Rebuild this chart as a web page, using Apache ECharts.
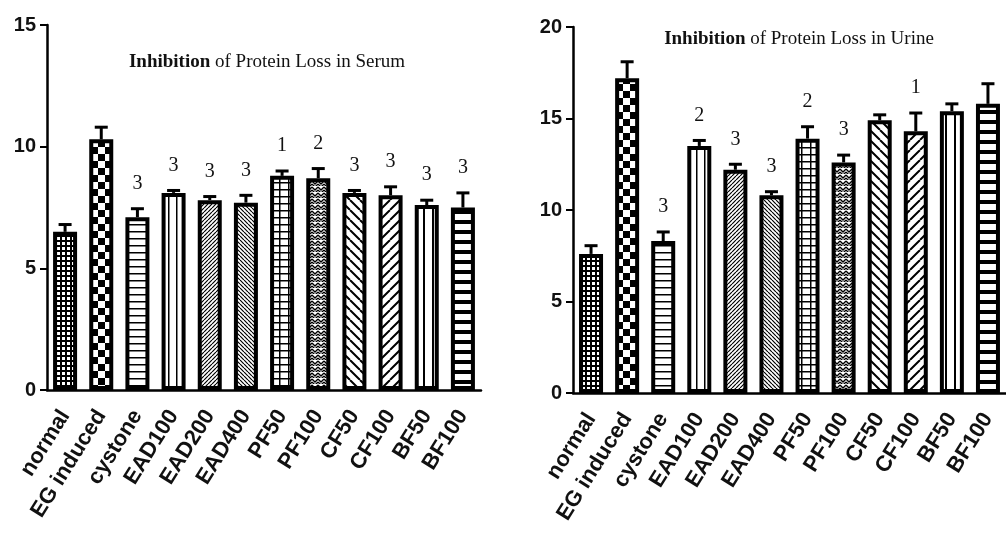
<!DOCTYPE html>
<html>
<head>
<meta charset="utf-8">
<script src="https://cdn.jsdelivr.net/npm/echarts@6/dist/echarts.min.js"></script>
<style>html,body{margin:0;padding:0;background:#fff}#c{width:1006px;height:538px}</style>
</head>
<body>
<div id="c"></div>
<script>
// ---- data ----
const categories = ['normal','EG induced','cystone','EAD100','EAD200','EAD400','PF50','PF100','CF50','CF100','BF50','BF100'];
const serumMean = [6.5, 10.3, 7.1, 8.1, 7.8, 7.7, 8.8, 8.7, 8.1, 8.0, 7.6, 7.5];
const serumErr  = [0.3, 0.5, 0.35, 0.1, 0.15, 0.3, 0.2, 0.4, 0.1, 0.35, 0.2, 0.6];
const serumSig  = ['', '', '3', '3', '3', '3', '1', '2', '3', '3', '3', '3'];
const urineMean = [7.6, 17.2, 8.3, 13.5, 12.2, 10.8, 13.9, 12.6, 14.9, 14.3, 15.4, 15.8];
const urineErr  = [0.45, 0.9, 0.5, 0.3, 0.3, 0.2, 0.65, 0.4, 0.3, 1.0, 0.4, 1.1];
const urineSig  = ['', '', '3', '2', '3', '3', '2', '3', '', '1', '', ''];
const serumTitle = 'Inhibition of Protein Loss in Serum';
const urineTitle = 'Inhibition of Protein Loss in Urine';

// ---- patterns ----
function pat(w, h, draw) {
  const c = document.createElement('canvas');
  c.width = w; c.height = h;
  const g = c.getContext('2d');
  g.fillStyle = '#fff'; g.fillRect(0, 0, w, h);
  g.fillStyle = '#000'; g.strokeStyle = '#000';
  draw(g, w, h);
  return { image: c, repeat: 'repeat' };
}
function diag(s, lw, dir) {
  return pat(s, s, (g) => {
    g.lineWidth = lw;
    g.beginPath();
    for (let k = -1; k <= 1; k++) {
      if (dir > 0) { g.moveTo(k * s, s); g.lineTo(k * s + s, 0); }
      else { g.moveTo(k * s, 0); g.lineTo(k * s + s, s); }
    }
    g.stroke();
  });
}
const patterns = [
  pat(5, 5, (g) => { g.fillRect(0, 0, 5, 2); g.fillRect(0, 0, 2, 5); }),           // normal fine mesh
  pat(14, 14, (g) => { g.fillRect(0, 0, 7, 7); g.fillRect(7, 7, 7, 7); }),        // EG big check
  pat(8, 7, (g) => { g.fillRect(0, 0, 8, 1.5); }),                                // cystone h-lines
  pat(8, 8, (g) => { g.fillRect(0, 0, 1.5, 8); }),                                // EAD100 v-lines
  diag(4, 1.2, 1),                                                                // EAD200
  diag(4, 1.2, -1),                                                               // EAD400
  pat(9, 7, (g) => { g.fillRect(0, 0, 9, 1.5); g.fillRect(0, 0, 1.5, 7); }),      // PF50 grid
  pat(6, 6, (g) => { g.lineWidth = 1.3; g.beginPath(); g.moveTo(0, 1); g.lineTo(3, 4); g.lineTo(6, 1); g.moveTo(0, 4); g.lineTo(3, 7); g.lineTo(6, 4); g.stroke(); }), // PF100 zigzag
  diag(10, 2, -1),                                                                // CF50
  diag(10, 2, 1),                                                                 // CF100
  pat(9, 8, (g) => { g.fillRect(0, 0, 2, 8); }),                                  // BF50
  pat(8, 10, (g) => { g.fillRect(0, 0, 8, 4); })                                  // BF100
];

function barData(vals) {
  return vals.map((v, i) => ({ value: v, itemStyle: { color: patterns[i] } }));
}
function errSeries(mean, err, sig, idx) {
  return {
    type: 'custom', xAxisIndex: idx, yAxisIndex: idx, z: 5,
    data: mean.map((m, i) => [i, m, m + err[i]]),
    renderItem: function (params, api) {
      const x = api.value(0);
      const p0 = api.coord([x, api.value(1)]);
      const p1 = api.coord([x, api.value(2)]);
      const ch = [
        { type: 'line', shape: { x1: p0[0], y1: p0[1], x2: p1[0], y2: p1[1] }, style: { stroke: '#000', lineWidth: 3 } },
        { type: 'line', shape: { x1: p1[0] - 6.5, y1: p1[1], x2: p1[0] + 6.5, y2: p1[1] }, style: { stroke: '#000', lineWidth: 3 } }
      ];
      const s = sig[params.dataIndex];
      if (s) ch.push({ type: 'text', x: p1[0], y: p1[1] - 25, style: { text: s, align: 'center', verticalAlign: 'middle', fontFamily: 'Liberation Serif', fontSize: 20, fill: '#111' } });
      return { type: 'group', children: ch };
    }
  };
}
const axisLineStyle = { color: '#000', width: 2.5 };
function yAx(idx, max) {
  return {
    type: 'value', gridIndex: idx, min: 0, max: max, interval: 5,
    axisLine: { show: true, lineStyle: axisLineStyle },
    axisTick: { show: true, length: 7, lineStyle: { color: '#000', width: 2 } },
    axisLabel: { color: '#111', fontSize: 20, fontWeight: 'bold', fontFamily: 'Liberation Sans', margin: 11 },
    splitLine: { show: false }
  };
}
function xAx(idx) {
  return {
    type: 'category', gridIndex: idx, data: categories,
    axisLine: { lineStyle: axisLineStyle },
    axisTick: { alignWithLabel: true, length: 8, lineStyle: { color: '#000', width: 1.5 } },
    axisLabel: { interval: 0, rotate: 58, color: '#111', fontSize: 22, fontWeight: 'bold', fontFamily: 'Liberation Sans', margin: 22 }
  };
}
function barSeries(vals, idx) {
  return {
    type: 'bar', xAxisIndex: idx, yAxisIndex: idx, barWidth: 24, data: barData(vals),
    itemStyle: { borderColor: '#000', borderWidth: 4 }
  };
}
function titleText(t, x, y) {
  const rest = t.replace(/^Inhibition/, '');
  return {
    type: 'text', x: x, y: y, z: 10,
    style: {
      text: '{b|Inhibition}{n|' + rest + '}', align: 'center', verticalAlign: 'middle',
      rich: {
        b: { fontFamily: 'Liberation Serif', fontSize: 19, fontWeight: 'bold', fill: '#111', color: '#111' },
        n: { fontFamily: 'Liberation Serif', fontSize: 19, fill: '#111', color: '#111' }
      }
    }
  };
}

const chart = echarts.init(document.getElementById('c'), null, { renderer: 'canvas' });
chart.setOption({
  backgroundColor: '#fff',
  animation: false,
  grid: [
    { left: 47, right: 525, top: 25, bottom: 148 },
    { left: 573, right: 0, top: 27, bottom: 145 }
  ],
  xAxis: [xAx(0), xAx(1)],
  yAxis: [yAx(0, 15), yAx(1, 20)],
  series: [
    barSeries(serumMean, 0), errSeries(serumMean, serumErr, serumSig, 0),
    barSeries(urineMean, 1), errSeries(urineMean, urineErr, urineSig, 1)
  ],
  graphic: [titleText(serumTitle, 267, 62), titleText(urineTitle, 799, 39)]
});
</script>
</body>
</html>
